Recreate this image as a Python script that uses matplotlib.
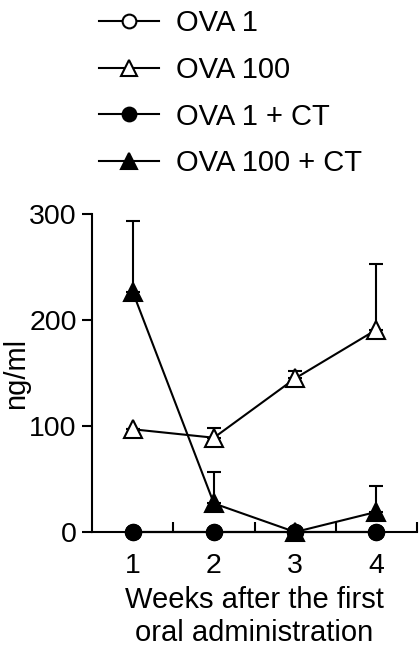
import matplotlib
matplotlib.use("Agg")
import matplotlib.pyplot as plt

plt.rcParams['font.family'] = ['Liberation Sans', 'DejaVu Sans']

weeks = [1, 2, 3, 4]
ova1 = [0, 0, 0, 0]
ova1_err = [0, 0, 0, 0]
ova100 = [97, 89, 145, 191]
ova100_err = [0, 9, 7, 62]
ova1_ct = [0, 0, 0, 0]
ova1_ct_err = [0, 0, 0, 0]
ova100_ct = [227, 27, 0, 19]
ova100_ct_err = [67, 30, 0, 24]

labels = ['OVA 1', 'OVA 100', 'OVA 1 + CT', 'OVA 100 + CT']

fig = plt.figure(figsize=(4.2, 6.5), dpi=100)
ax = fig.add_axes([0.219, 0.1815, 0.774, 0.489])

series = [
    (ova1, ova1_err, 'o', 'white', 11),
    (ova100, ova100_err, '^', 'white', 13.5),
    (ova1_ct, ova1_ct_err, 'o', 'black', 11),
    (ova100_ct, ova100_ct_err, '^', 'black', 13.5),
]
handles = []
for i, (vals, err, m, fc, ms) in enumerate(series):
    ax.errorbar(weeks, vals, yerr=[[0] * 4, err], fmt='none', ecolor='black',
                elinewidth=1.5, capsize=5, capthick=1.5, zorder=2 + i, clip_on=False)
    ln, = ax.plot(weeks, vals, color='black', lw=1.5, marker=m, ms=ms,
                  mfc=fc, mec='black', mew=1.5, zorder=3 + i, clip_on=False)
    handles.append(ln)

ax.set_xlim(0.5, 4.5)
ax.set_ylim(0, 300)
ax.set_yticks([0, 100, 200, 300])
ax.set_xticks([1, 2, 3, 4])
ax.set_xticks([1.5, 2.5, 3.5, 4.5], minor=True)
ax.tick_params(axis='x', which='major', length=0, labelsize=20.5, pad=15)
ax.tick_params(axis='x', which='minor', direction='in', length=7, width=1.5)
ax.tick_params(axis='y', direction='out', length=7, width=1.5, labelsize=20.5, pad=4)
for s in ['top', 'right']:
    ax.spines[s].set_visible(False)
for s in ['left', 'bottom']:
    ax.spines[s].set_linewidth(1.5)
ax.set_ylabel('ng/ml', fontsize=21)
ax.yaxis.set_label_coords(-0.19, 0.5)
ax.set_xlabel('Weeks after the first\noral administration', fontsize=21,
              linespacing=1.22, labelpad=5)

fig.legend(handles, labels, loc='upper left', bbox_to_anchor=(0.174, 1.026),
           frameon=False, fontsize=21, handlelength=2.05, handletextpad=0.58,
           labelspacing=0.64, markerscale=0.9)

fig.savefig('out.png', dpi=100)
